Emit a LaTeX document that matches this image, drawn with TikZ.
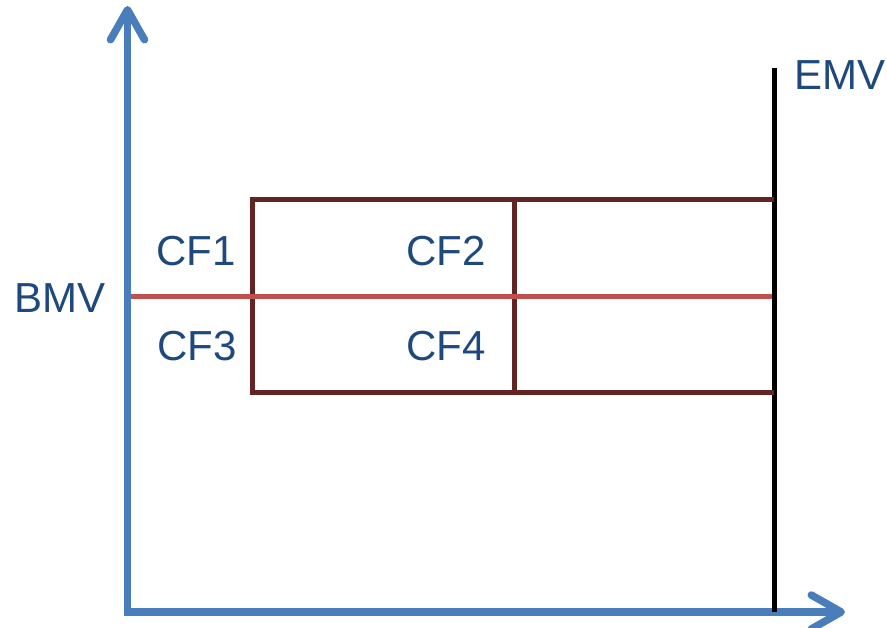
\documentclass[tikz,border=0pt]{standalone}
\usepackage{fontspec}
\setmainfont{Liberation Sans}
\usetikzlibrary{arrows.meta}
\definecolor{axisblue}{HTML}{4A7EBB}
\definecolor{boxred}{HTML}{632523}
\definecolor{midred}{HTML}{C0504D}
\definecolor{labelblue}{HTML}{1F497D}
\begin{document}
\begin{tikzpicture}[x=1pt,y=-1pt,
  axis/.style={draw=axisblue,line width=7.5pt,line cap=butt,
    -{Straight Barb[length=30pt,width=34pt,round]}},
  frame/.style={draw=boxred,line width=5pt},
  midline/.style={draw=midred,line width=5pt},
  emvline/.style={draw=black,line width=5pt},
  lbl/.style={text=labelblue,font=\fontsize{42}{42}\selectfont,inner sep=0pt,anchor=center}]
\useasboundingbox (0,0) rectangle (887,628);
% axes
\coordinate (O) at (127.5,612);
\coordinate (ytop) at (127.5,6);
\coordinate (xend) at (845,612);
\draw[axis] ([yshift=3.75pt]O) -- (ytop);
\draw[axis] ([xshift=-3.75pt]O) -- (xend);
% EMV line
\coordinate (emvtop) at (774,68);
\coordinate (emvbot) at (774,612);
\draw[emvline] (emvtop) -- (emvbot);
% grid of cells
\coordinate (tl) at (252,200);
\coordinate (tm) at (514,200);
\coordinate (tr) at (774,200);
\coordinate (bl) at (252,393);
\coordinate (bm) at (514,393);
\coordinate (br) at (774,393);
\draw[frame] (tr) -- (tl) -- (bl) -- (br);
\draw[frame] (tm) -- (bm);
% BMV line
\coordinate (bmvstart) at (131,297);
\coordinate (bmvend) at (772,297);
\draw[midline] (bmvstart) -- (bmvend);
% labels
\node[lbl] (emv) at (840,75) {EMV};
\node[lbl] (bmv) at (60,298) {BMV};
\node[lbl] (cf1) at (196,251) {CF1};
\node[lbl] (cf2) at (446,251) {CF2};
\node[lbl] (cf3) at (197,346) {CF3};
\node[lbl] (cf4) at (446,346) {CF4};
\end{tikzpicture}
\end{document}
